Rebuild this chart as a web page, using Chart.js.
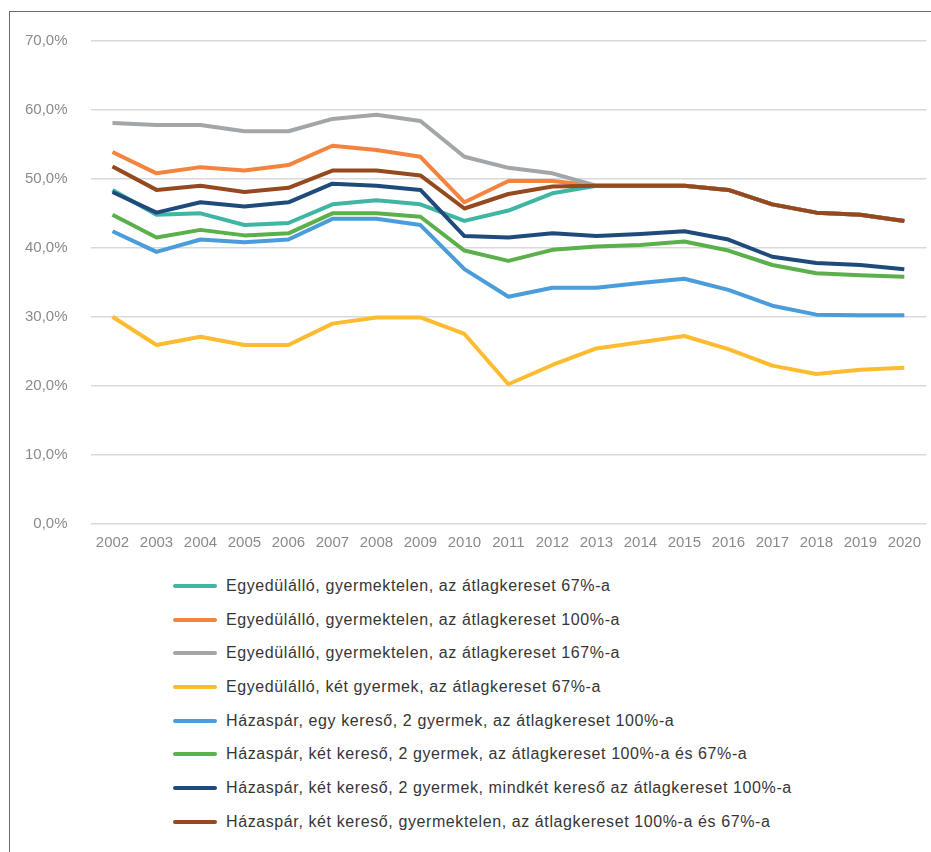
<!DOCTYPE html>
<html>
<head>
<meta charset="utf-8">
<script src="https://cdn.jsdelivr.net/npm/chart.js@4.4.1/dist/chart.umd.min.js"></script>
<style>
  html, body { margin: 0; padding: 0; background: #fff; }
  body { width: 931px; height: 852px; position: relative; overflow: hidden; font-family: "Liberation Sans", Arial, sans-serif; }
  #frame { position: absolute; left: 9px; top: 11px; width: 940px; height: 860px; border-left: 1px solid #6b6b6b; border-top: 1px solid #6b6b6b; }
  #chartBox { position: absolute; left: 0; top: 0; width: 931px; height: 562px; }
  #legend { position: absolute; left: 173px; top: 569px; margin: 0; padding: 0; list-style: none; }
  #legend li { display: flex; align-items: center; height: 33.7px; font-size: 16px; letter-spacing: 0.6px; color: #363636; white-space: nowrap; }
  #legend .swatch { display: inline-block; width: 44px; height: 4px; border-radius: 2px; margin-right: 9px; }
</style>
</head>
<body>
<div id="frame"></div>
<div id="chartBox"><canvas id="taxChart"></canvas></div>
<ul id="legend"></ul>
<script>
const years = ['2002','2003','2004','2005','2006','2007','2008','2009','2010','2011','2012','2013','2014','2015','2016','2017','2018','2019','2020'];
const yTicks = [0, 10, 20, 30, 40, 50, 60, 70];

const singleNoChild67 = [48.4, 44.8, 45.0, 43.3, 43.6, 46.3, 46.9, 46.3, 43.9, 45.4, 47.9, 49.0, 49.0, 49.0, 48.4, 46.3, 45.1, 44.8, 43.9];
const singleNoChild100 = [53.9, 50.8, 51.7, 51.2, 52.0, 54.8, 54.2, 53.2, 46.6, 49.7, 49.7, 49.0, 49.0, 49.0, 48.4, 46.3, 45.1, 44.8, 43.9];
const singleNoChild167 = [58.1, 57.8, 57.8, 56.9, 56.9, 58.7, 59.3, 58.4, 53.2, 51.6, 50.8, 49.0, 49.0, 49.0, 48.4, 46.3, 45.1, 44.8, 43.9];
const singleTwoKids67 = [30.0, 25.9, 27.1, 25.9, 25.9, 29.0, 29.9, 29.9, 27.5, 20.2, 23.0, 25.4, 26.3, 27.2, 25.3, 22.9, 21.7, 22.3, 22.6];
const coupleOneEarner = [42.4, 39.4, 41.2, 40.8, 41.2, 44.2, 44.2, 43.3, 36.9, 32.9, 34.2, 34.2, 34.9, 35.5, 33.9, 31.6, 30.3, 30.2, 30.2];
const coupleTwoEarners = [44.8, 41.5, 42.6, 41.8, 42.1, 45.0, 45.0, 44.5, 39.6, 38.1, 39.7, 40.2, 40.4, 40.9, 39.6, 37.5, 36.3, 36.0, 35.8];
const coupleBoth100 = [48.1, 45.1, 46.6, 46.0, 46.6, 49.3, 49.0, 48.4, 41.7, 41.5, 42.1, 41.7, 42.0, 42.4, 41.2, 38.7, 37.8, 37.5, 36.9];
const coupleNoChild = [51.8, 48.4, 49.0, 48.1, 48.7, 51.2, 51.2, 50.5, 45.7, 47.8, 48.9, 49.0, 49.0, 49.0, 48.4, 46.3, 45.1, 44.8, 43.9];

const seriesNames = [
  'Egyedülálló, gyermektelen, az átlagkereset 67%-a',
  'Egyedülálló, gyermektelen, az átlagkereset 100%-a',
  'Egyedülálló, gyermektelen, az átlagkereset 167%-a',
  'Egyedülálló, két gyermek, az átlagkereset 67%-a',
  'Házaspár, egy kereső, 2 gyermek, az átlagkereset 100%-a',
  'Házaspár, két kereső, 2 gyermek, az átlagkereset 100%-a és 67%-a',
  'Házaspár, két kereső, 2 gyermek, mindkét kereső az átlagkereset 100%-a',
  'Házaspár, két kereső, gyermektelen, az átlagkereset 100%-a és 67%-a'
];
const seriesData = [singleNoChild67, singleNoChild100, singleNoChild167, singleTwoKids67, coupleOneEarner, coupleTwoEarners, coupleBoth100, coupleNoChild];
const seriesColors = ['#3fb5a4', '#f3833d', '#a2a6a8', '#fdbc30', '#4a9dda', '#5bb04c', '#1f4b7c', '#95491f'];

// later series are drawn on top, like the original
const datasets = seriesData.map((d, i) => ({
  label: seriesNames[i],
  data: d,
  borderColor: seriesColors[i],
  backgroundColor: seriesColors[i],
  borderWidth: 4,
  pointRadius: 0,
  tension: 0,
  fill: false,
  borderJoinStyle: 'round',
  order: seriesData.length - i
}));

const ctx = document.getElementById('taxChart').getContext('2d');
const taxChart = new Chart(ctx, {
  type: 'line',
  data: { labels: years, datasets: datasets },
  options: {
    responsive: true,
    maintainAspectRatio: false,
    animation: false,
    layout: { padding: { top: 41, left: 0, right: 0, bottom: 0 } },
    plugins: { legend: { display: false }, tooltip: { enabled: false } },
    scales: {
      x: {
        offset: true,
        grid: { display: false, drawTicks: false },
        border: { display: false },
        ticks: { color: '#8a8a8a', font: { family: 'Liberation Sans', size: 15 }, padding: 10, maxRotation: 0, autoSkip: false },
        afterFit: s => { s.height = 38.5; }
      },
      y: {
        min: 0,
        max: 70,
        afterBuildTicks: s => { s.ticks = yTicks.map(v => ({ value: v })); },
        grid: { color: '#d9d9d9', lineWidth: 1.5, drawTicks: false },
        border: { display: false },
        ticks: {
          color: '#8a8a8a',
          font: { family: 'Liberation Sans', size: 15 },
          padding: 23,
          callback: v => v.toFixed(1).replace('.', ',') + '%'
        },
        afterFit: s => { s.width = 90.5; }
      }
    }
  }
});

const legend = document.getElementById('legend');
seriesNames.forEach((name, i) => {
  const li = document.createElement('li');
  const sw = document.createElement('span');
  sw.className = 'swatch';
  sw.style.background = seriesColors[i];
  li.appendChild(sw);
  li.appendChild(document.createTextNode(name));
  legend.appendChild(li);
});
</script>
</body>
</html>
